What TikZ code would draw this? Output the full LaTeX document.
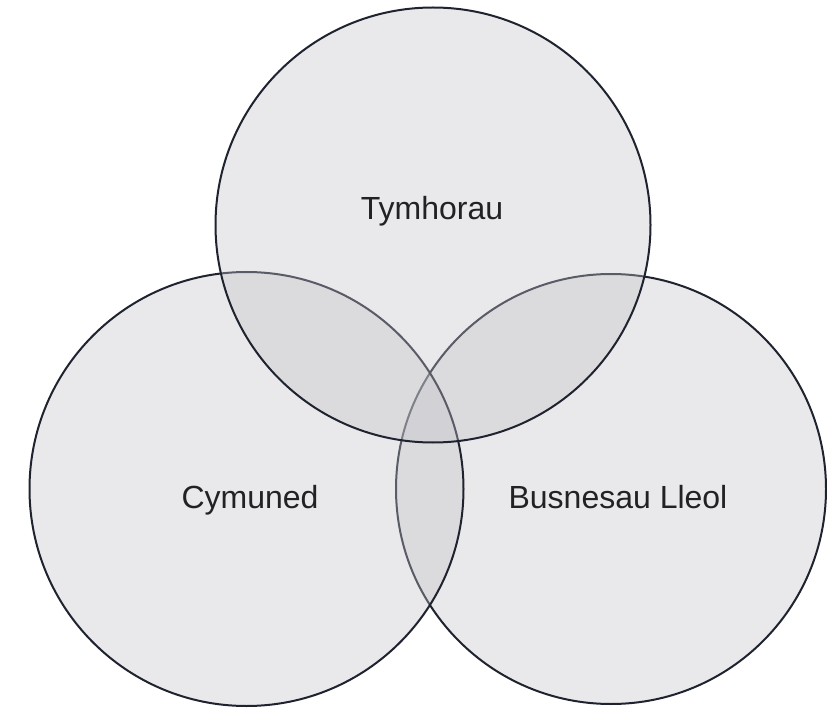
\documentclass[tikz,border=0pt]{standalone}
\usepackage{fontspec}
\setmainfont{Liberation Sans}
\definecolor{ringline}{RGB}{30,35,47}
\definecolor{ringfill}{RGB}{195,195,200}
\definecolor{labeltext}{RGB}{34,34,34}
\begin{document}
\begin{tikzpicture}[x=1pt,y=-1pt,
  ring/.style={draw=ringline,line width=2pt,fill=ringfill,fill opacity=0.36},
  setlabel/.style={anchor=base,text=labeltext,inner sep=0pt,font=\fontsize{32}{38}\selectfont}]
\useasboundingbox[fill=white] (0,0) rectangle (827,711);
\draw[ring] (611,489) circle[radius=215];
\draw[ring] (246.5,489) circle[radius=217];
\draw[ring] (433,225) circle[radius=217.5];
\node[setlabel] (top) at (432,220) {Tymhorau};
\node[setlabel] (left) at (250,508) {Cymuned};
\node[setlabel] (right) at (618,508) {Busnesau Lleol};
\end{tikzpicture}
\end{document}
